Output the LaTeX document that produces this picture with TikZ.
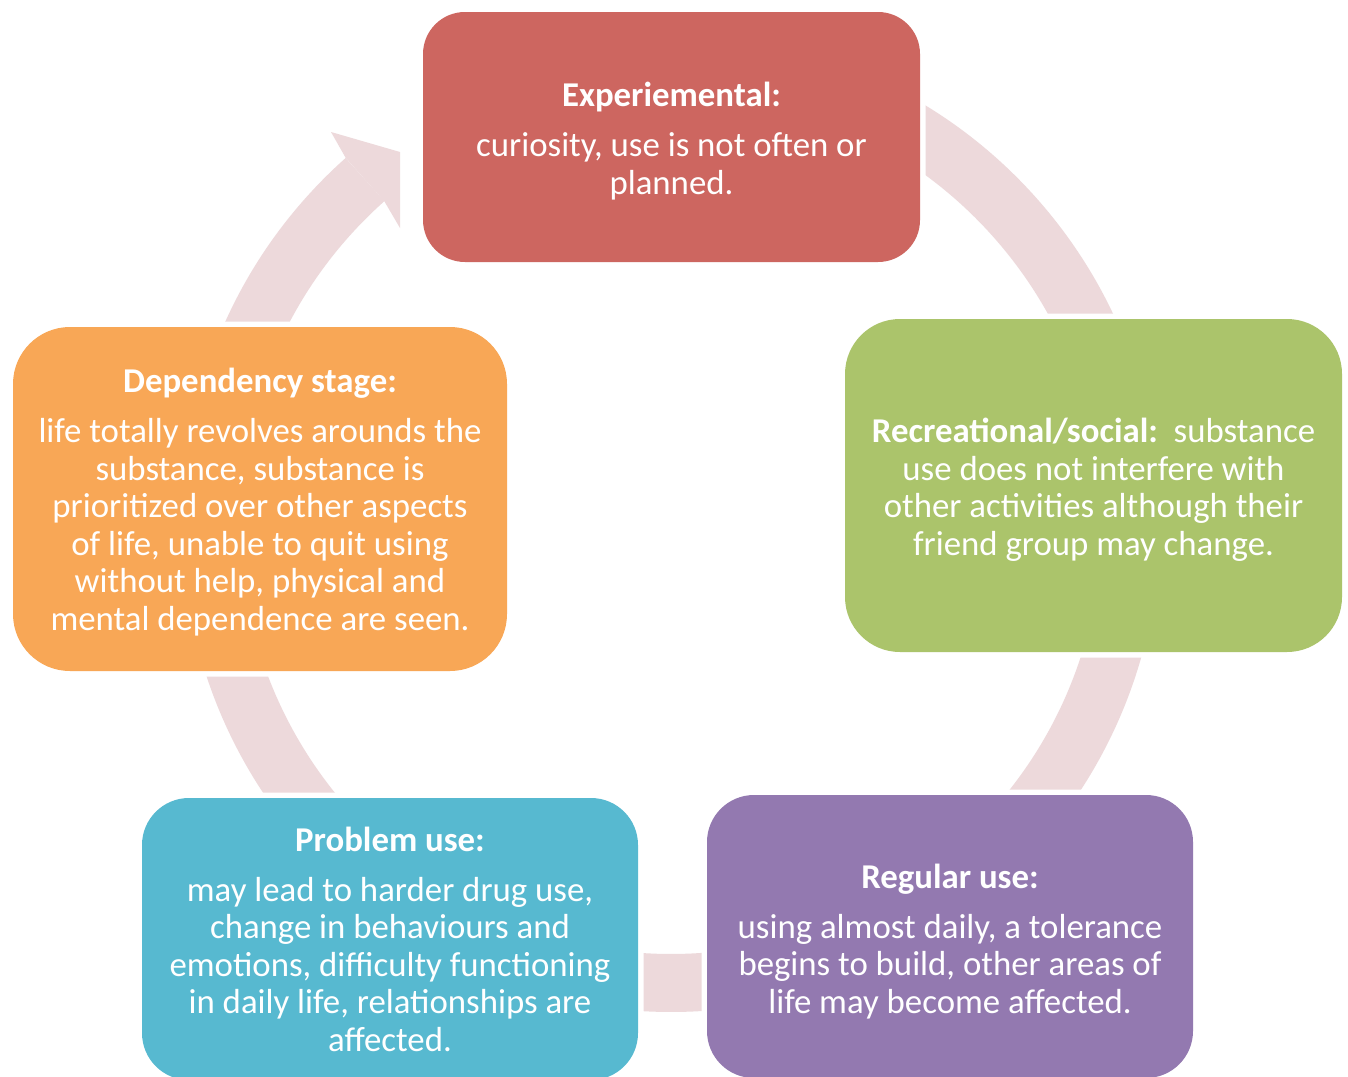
\documentclass[tikz,border=0pt]{standalone}
\usepackage{fontspec}
\setmainfont{Carlito}
\definecolor{cred}{HTML}{CD6660}
\definecolor{cgreen}{HTML}{ABC46B}
\definecolor{cpurple}{HTML}{9379B0}
\definecolor{ccyan}{HTML}{57B9D0}
\definecolor{corange}{HTML}{F8A756}
\definecolor{cring}{HTML}{EDD9DB}
\begin{document}
\begin{tikzpicture}[x=1pt,y=-1pt,
  box/.style={preaction={draw=white, line width=11pt}, inner sep=0pt},
  txt/.style={text=white, align=center, inner sep=0pt,
    font=\fontsize{34.8}{37.5}\selectfont},
  ringband/.style={draw=cring, line width=58pt}]
\useasboundingbox (0,0) rectangle (1348,1076);
\fill[white] (0,0) rectangle (1348,1076);
\coordinate (c) at (671,523);
\draw[ringband] ([shift={(c)}]-131.7:460) arc[start angle=-131.7,end angle=-475,radius=460];
\fill[cring] ([shift={(c)}]-131.7:489) -- (331,132) -- (400,152) -- (400,228) -- ([shift={(c)}]-131.7:431) -- cycle;

\node[box, fill=cred, minimum width=497pt, minimum height=250pt, rounded corners=42pt] (exp) at (671.5,137) {};
\node[box, fill=cgreen, minimum width=497pt, minimum height=333pt, rounded corners=55pt] (rec) at (1093.5,485.5) {};
\node[box, fill=cpurple, minimum width=486pt, minimum height=283pt, rounded corners=47pt] (reg) at (950,936.5) {};
\node[box, fill=ccyan, minimum width=496pt, minimum height=282pt, rounded corners=47pt] (prob) at (390,939) {};
\node[box, fill=corange, minimum width=494pt, minimum height=344pt, rounded corners=57pt] (dep) at (260,499) {};

\node[txt] (expt) at ([yshift=-4pt]exp.center)
  {\textbf{Experiemental:}\\[12.5pt] curiosity, use is not often or\\ planned.};
\node[txt] (rect) at ([yshift=-4pt]rec.center)
  {\textbf{Recreational/social:}\ \ substance\\ use does not interfere with\\ other activities although their\\ friend group may change.};
\node[txt] (regt) at ([yshift=-5pt]reg.center)
  {\textbf{Regular use:}\\[12.5pt] using almost daily, a tolerance\\ begins to build, other areas of\\ life may become affected.};
\node[txt] (probt) at ([yshift=0pt]prob.center)
  {\textbf{Problem use:}\\[12.5pt] may lead to harder drug use,\\ change in behaviours and\\ emotions, difficulty functioning\\ in daily life, relationships are\\ affected.};
\node[txt] (dept) at ([yshift=-3pt]dep.center)
  {\textbf{Dependency stage:}\\[12.5pt] life totally revolves arounds the\\ substance, substance is\\ prioritized over other aspects\\ of life, unable to quit using\\ without help, physical and\\ mental dependence are seen.};
\end{tikzpicture}
\end{document}
